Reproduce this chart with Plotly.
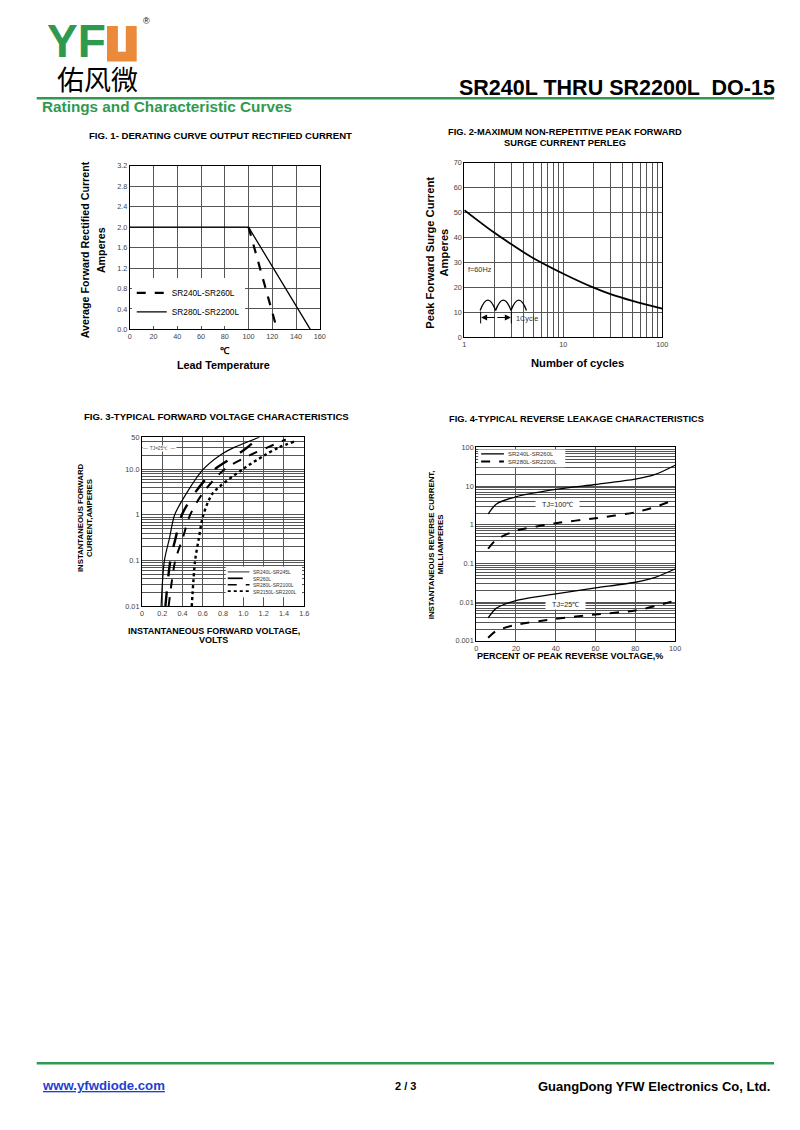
import plotly.graph_objects as go

# page body has an 8px margin; the figure is sized so the whole page fits the 800x1130 window
OFF = 8
W, H = 800 - 2 * OFF, 1106


def px(x):
    return (x - OFF) / W


def py(y):
    return 1 - (y - OFF) / H


FONT = "Liberation Sans, Arial, sans-serif"
GREEN = "#2f9a4f"
ORANGE = "#ec8a3c"
GRID = "#555555"

# ---------------- Fig 1 data ----------------
fig1_names = ["SR240L-SR260L", "SR280L-SR2200L"]
fig1_temp_a = [100, 124]
fig1_curr_a = [2.0, 0.0]
fig1_temp_b = [0, 100, 152]
fig1_curr_b = [2.0, 2.0, 0.0]
fig1_xticks = [0, 20, 40, 60, 80, 100, 120, 140, 160]
fig1_yticks = [0.0, 0.4, 0.8, 1.2, 1.6, 2.0, 2.4, 2.8, 3.2]

# ---------------- Fig 2 data ----------------
fig2_cycles = [1, 2, 3, 5, 10, 20, 30, 50, 100]
fig2_current = [51, 42, 37.3, 31.7, 25.5, 20, 17.3, 14.6, 11.5]
fig2_xgrid = [1, 2, 3, 4, 5, 6, 7, 8, 9, 10, 20, 30, 40, 50, 60, 70, 80, 90, 100]
fig2_xlabels = {1: "1", 10: "10", 100: "100"}
fig2_yticks = [0, 10, 20, 30, 40, 50, 60, 70]

# ---------------- Fig 3 data ----------------
fig3_names = ["SR240L-SR245L", "SR260L", "SR280L-SR2100L", "SR2150L-SR2200L"]
fig3_current = [0.01, 0.1, 0.3, 1, 3, 10, 20, 30]
fig3_volt_a = [0.189, 0.221, 0.27, 0.322, 0.44, 0.605, 0.767, 0.91]
fig3_volt_b = [0.231, 0.28, 0.33, 0.393, 0.52, 0.72, 0.93, 1.04]
fig3_volt_c = [0.263, 0.328, 0.40, 0.475, 0.60, 0.816, 1.06, 1.24]
fig3_volt_d = [0.491, 0.524, 0.56, 0.605, 0.70, 0.995, 1.206, 1.35]
fig3_end_volt = [1.158, 1.14, 1.418, 1.50]
fig3_end_curr = [50, 48, 44.6, 40]
fig3_xticks = [0, 0.2, 0.4, 0.6, 0.8, 1.0, 1.2, 1.4, 1.6]
fig3_xlabels = ["0", "0.2", "0.4", "0.6", "0.8", "1.0", "1.2", "1.4", "1.6"]
fig3_ygrid = [0.01, 0.02, 0.03, 0.04, 0.05, 0.06, 0.07, 0.08, 0.09,
              0.1, 0.2, 0.3, 0.4, 0.5, 0.6, 0.7, 0.8, 0.9,
              1, 2, 3, 4, 5, 6, 7, 8, 9, 10, 20, 30, 40, 50]
fig3_ylabels = {0.01: "0.01", 0.1: "0.1", 1: "1", 10: "10.0", 50: "50"}

# ---------------- Fig 4 data ----------------
fig4_names = ["SR240L-SR260L", "SR280L-SR2200L"]
fig4_percent = [6, 10, 20, 40, 60, 80, 90, 100]
fig4_100c_a = [1.9, 3.4, 5.3, 8.2, 11.0, 15.1, 20.0, 34.7]
fig4_100c_b = [0.24, 0.41, 0.70, 1.1, 1.48, 2.1, 2.9, 4.5]
fig4_25c_a = [0.0039, 0.0069, 0.011, 0.0164, 0.0234, 0.0327, 0.044, 0.072]
fig4_25c_b = [0.0012, 0.0018, 0.0026, 0.0037, 0.0048, 0.0061, 0.0079, 0.011]
fig4_xticks = [0, 20, 40, 60, 80, 100]
fig4_ydecades = [0.001, 0.01, 0.1, 1, 10, 100]
fig4_ylabels = ["0.001", "0.01", "0.1", "1", "10", "100"]

fig = go.Figure()

# Fig 1 traces
fig.add_trace(go.Scatter(x=fig1_temp_a, y=fig1_curr_a, mode="lines", name=fig1_names[0],
                         line=dict(color="black", width=2.2, dash="dash"),
                         xaxis="x", yaxis="y", legend="legend"))
fig.add_trace(go.Scatter(x=fig1_temp_b, y=fig1_curr_b, mode="lines", name=fig1_names[1],
                         line=dict(color="black", width=1.3),
                         xaxis="x", yaxis="y", legend="legend"))

# Fig 2 trace
fig.add_trace(go.Scatter(x=fig2_cycles, y=fig2_current, mode="lines", showlegend=False,
                         line=dict(color="black", width=1.8, shape="spline", smoothing=1.0),
                         xaxis="x2", yaxis="y2"))

# Fig 3 traces
fig3_styles = [dict(width=1.2, dash="solid"), dict(width=2.4, dash="longdash"),
               dict(width=2.0, dash="dash"), dict(width=2.4, dash="dot")]
fig3_volts = [fig3_volt_a, fig3_volt_b, fig3_volt_c, fig3_volt_d]
for i, name in enumerate(fig3_names):
    xs = fig3_volts[i] + [fig3_end_volt[i]]
    ys = fig3_current + [fig3_end_curr[i]]
    st = fig3_styles[i]
    fig.add_trace(go.Scatter(x=xs, y=ys, mode="lines", name=name, showlegend=False,
                             line=dict(color="black", width=st["width"], dash=st["dash"],
                                       shape="spline", smoothing=0.8),
                             xaxis="x3", yaxis="y3"))

# Fig 4 traces
fig4_series = [(fig4_100c_a, 0), (fig4_100c_b, 1), (fig4_25c_a, 0), (fig4_25c_b, 1)]
fig4_styles = [dict(width=1.3, dash="solid"), dict(width=2.0, dash="dash")]
for k, (vals, idx) in enumerate(fig4_series):
    fig.add_trace(go.Scatter(x=fig4_percent, y=vals, mode="lines", name=fig4_names[idx],
                             showlegend=False,
                             line=dict(color="black", width=fig4_styles[idx]["width"],
                                       dash=fig4_styles[idx]["dash"],
                                       shape="spline", smoothing=0.7),
                             xaxis="x4", yaxis="y4"))

tickfont = dict(size=7.3, color="#444", family=FONT)
axis_common = dict(showline=True, linecolor="black", linewidth=1, mirror=True,
                   showgrid=True, gridcolor=GRID, gridwidth=0.8, zeroline=False,
                   ticks="", tickfont=tickfont, fixedrange=True)

fig.update_layout(
    width=W, height=H, margin=dict(l=0, r=0, t=0, b=0),
    paper_bgcolor="white", plot_bgcolor="white",
    font=dict(family=FONT, color="black"),
    xaxis=dict(axis_common, domain=[px(129), px(321)], range=[0, 160],
               tickvals=fig1_xticks, anchor="y"),
    yaxis=dict(axis_common, domain=[py(328), py(163)], range=[0, 3.2],
               tickvals=fig1_yticks, tickformat=".1f", anchor="x"),
    xaxis2=dict(axis_common, domain=[px(467), px(667)], type="log", range=[0, 2],
                tickvals=fig2_xgrid, ticktext=[fig2_xlabels.get(v, "") for v in fig2_xgrid],
                anchor="y2"),
    yaxis2=dict(axis_common, domain=[py(336), py(160)], range=[0, 70],
                tickvals=fig2_yticks, anchor="x2"),
    xaxis3=dict(axis_common, domain=[px(141.3), px(305.3)], range=[0, 1.6],
                tickvals=fig3_xticks, ticktext=fig3_xlabels, anchor="y3"),
    yaxis3=dict(axis_common, domain=[py(607.3), py(436.7)], type="log", range=[-2, 1.69897],
                tickvals=fig3_ygrid, ticktext=[fig3_ylabels.get(v, "") for v in fig3_ygrid],
                anchor="x3"),
    xaxis4=dict(axis_common, domain=[px(479), px(680)], range=[0, 100],
                tickvals=fig4_xticks, anchor="y4"),
    yaxis4=dict(axis_common, domain=[py(642), py(447)], type="log", range=[-3, 2],
                tickvals=[d * m for d in fig4_ydecades[:-1] for m in range(1, 10)] + [100],
                ticktext=[(fig4_ylabels[i] if m == 1 else "") for i in range(5) for m in range(1, 10)] + ["100"],
                anchor="x4"),
    legend=dict(x=px(131), y=py(325), xanchor="left", yanchor="bottom",
                bgcolor="white", font=dict(size=8.3, family=FONT), tracegroupgap=0,
                itemwidth=30),
)

ann = []


def text(x, y, s, size, bold=False, color="black", xanchor="center", angle=0, bg=None, family=FONT,
         align="center"):
    d = dict(x=px(x), y=py(y), xref="paper", yref="paper", showarrow=False,
             text=("<b>%s</b>" % s) if bold else s, xanchor=xanchor, yanchor="middle",
             textangle=angle, align=align, font=dict(size=size, color=color, family=family),
             borderpad=0)
    if bg:
        d["bgcolor"] = bg
    ann.append(d)


shapes = []


def hline(x0, x1, y, color="black", width=1, dash="solid"):
    shapes.append(dict(type="line", xref="paper", yref="paper", x0=px(x0), x1=px(x1), y0=py(y), y1=py(y),
                       line=dict(color=color, width=width, dash=dash)))


def box(x0, x1, y0, y1, color="white"):
    shapes.append(dict(type="rect", xref="paper", yref="paper", x0=px(x0), x1=px(x1), y0=py(y1), y1=py(y0),
                       fillcolor=color, line=dict(width=0)))


# Header
text(44, 37, "YF", 46, bold=True, color=GREEN, xanchor="left")
text(141, 17, "®", 9, xanchor="left")
text(54, 75, "佑风微", 27, family="Noto Sans CJK SC", xanchor="left")
text(782, 85, "SR240L THRU SR2200L  DO-15", 21.5, bold=True, xanchor="right")
text(39, 103, "Ratings and Characteristic Curves", 15.3, bold=True, color=GREEN, xanchor="left")

# Footer
text(39, 1090, "<u>www.yfwdiode.com</u>", 13.2, bold=True, color="#1f3fd0", xanchor="left")
text(408, 1091, "2 / 3", 11, bold=True)
text(777, 1091, "GuangDong YFW Electronics Co, Ltd.", 13, bold=True, xanchor="right")

# Fig 1 texts
text(221, 133, "FIG. 1- DERATING CURVE OUTPUT RECTIFIED CURRENT", 9.6, bold=True)
text(84, 248, "Average Forward Rectified Current", 10.7, bold=True, angle=-90)
text(100, 248, "Amperes", 10.7, bold=True, angle=-90)
text(225, 349, "℃", 9.5, bold=True)
text(224, 364, "Lead Temperature", 10.8, bold=True)

# Fig 2 texts
text(569, 129, "FIG. 2-MAXIMUM NON-REPETITIVE PEAK FORWARD", 9.3, bold=True)
text(569, 140, "SURGE CURRENT PERLEG", 9.3, bold=True)
text(432, 251, "Peak Forward Surge Current", 11.2, bold=True, angle=-90)
text(447, 251, "Amperes", 11.2, bold=True, angle=-90)
text(581, 362, "Number of cycles", 11.2, bold=True)
text(470, 268, "f=60Hz", 7.3, xanchor="left", color="#333")
text(518, 317, "1Cycle", 7.3, xanchor="left", color="#333")

# Fig 3 texts
text(217, 416, "FIG. 3-TYPICAL FORWARD VOLTAGE CHARACTERISTICS", 9.6, bold=True)
text(80, 518, "INSTANTANEOUS FORWARD", 7.8, bold=True, angle=-90)
text(89, 518, "CURRENT,AMPERES", 7.8, bold=True, angle=-90)
text(214, 632, "INSTANTANEOUS FORWARD VOLTAGE,", 9, bold=True)
text(214, 641, "VOLTS", 9, bold=True)
text(159, 448, "—  TJ=25℃  —", 4.6, bg="white", color="#444")

# Fig 3 legend (compact key)
box(226, 303, 567, 598)
for i, name in enumerate(fig3_names):
    yy = 572.5 + 6.45 * i
    hline(228, 250, yy, width=fig3_styles[i]["width"] * 0.7, dash=fig3_styles[i]["dash"])
text(252, 582.2, "<br>".join(fig3_names), 5, xanchor="left", align="left", color="#333")

# Fig 4 texts
text(580, 418, "FIG. 4-TYPICAL REVERSE LEAKAGE CHARACTERISTICS", 9.3, bold=True)
text(434, 545, "INSTANTANEOUS REVERSE CURRENT,", 7.9, bold=True, angle=-90)
text(443, 545, "MILLIAMPERES", 7.9, bold=True, angle=-90)
text(574, 657, "PERCENT OF PEAK REVERSE VOLTAGE,%", 9, bold=True)
text(561, 505, "&nbsp;&nbsp;&nbsp;TJ=100℃&nbsp;&nbsp;&nbsp;", 7.2, bg="white", color="#222")
text(569, 605, "&nbsp;&nbsp;&nbsp;TJ=25℃&nbsp;&nbsp;&nbsp;", 7.2, bg="white", color="#222")

# Fig 4 legend (compact key)
box(481, 569, 449, 467)
for i, name in enumerate(fig4_names):
    yy = 453.5 + 7.6 * i
    hline(484, 507, yy, width=fig4_styles[i]["width"], dash=fig4_styles[i]["dash"])
text(510, 457.3, "<br>".join(fig4_names), 6, xanchor="left", align="left", color="#333")

# 1-cycle arrows in fig 2
for tip_x, tail_x in [(484, 499), (514, 499)]:
    ann.append(dict(x=px(tip_x), y=py(316), ax=tail_x - tip_x, ay=0, xref="paper", yref="paper",
                    axref="pixel", ayref="pixel", showarrow=True, arrowhead=2, arrowsize=1,
                    arrowwidth=1.2, arrowcolor="black", text=""))

fig.update_layout(annotations=ann)

# header / footer rules
hline(35, 780, 95, color=GREEN, width=2.5)
hline(35, 780, 1068, color=GREEN, width=2.5)
# logo orange U block
box(106, 136, 22, 58, color=ORANGE)
box(117, 125, 22, 48, color="white")


# waveform icon in fig 2 (three half-sine humps)
def hump(x0, x1, base, peak):
    xc = (x0 + x1) / 2
    yc = base - 2 * (base - peak)
    return "M %f,%f Q %f,%f %f,%f" % (px(x0), py(base), px(xc), py(yc), px(x1), py(base))


path = " ".join(hump(483 + 15.6 * k, 483 + 15.6 * (k + 1), 309, 298.5) for k in range(3))
shapes.append(dict(type="path", xref="paper", yref="paper", path=path, line=dict(color="black", width=1.3)))
for bx in (483.5, 514.5):
    shapes.append(dict(type="line", xref="paper", yref="paper", x0=px(bx), x1=px(bx), y0=py(310), y1=py(322),
                       line=dict(color="black", width=1)))

fig.update_layout(shapes=shapes)

fig.write_html("out.html")
